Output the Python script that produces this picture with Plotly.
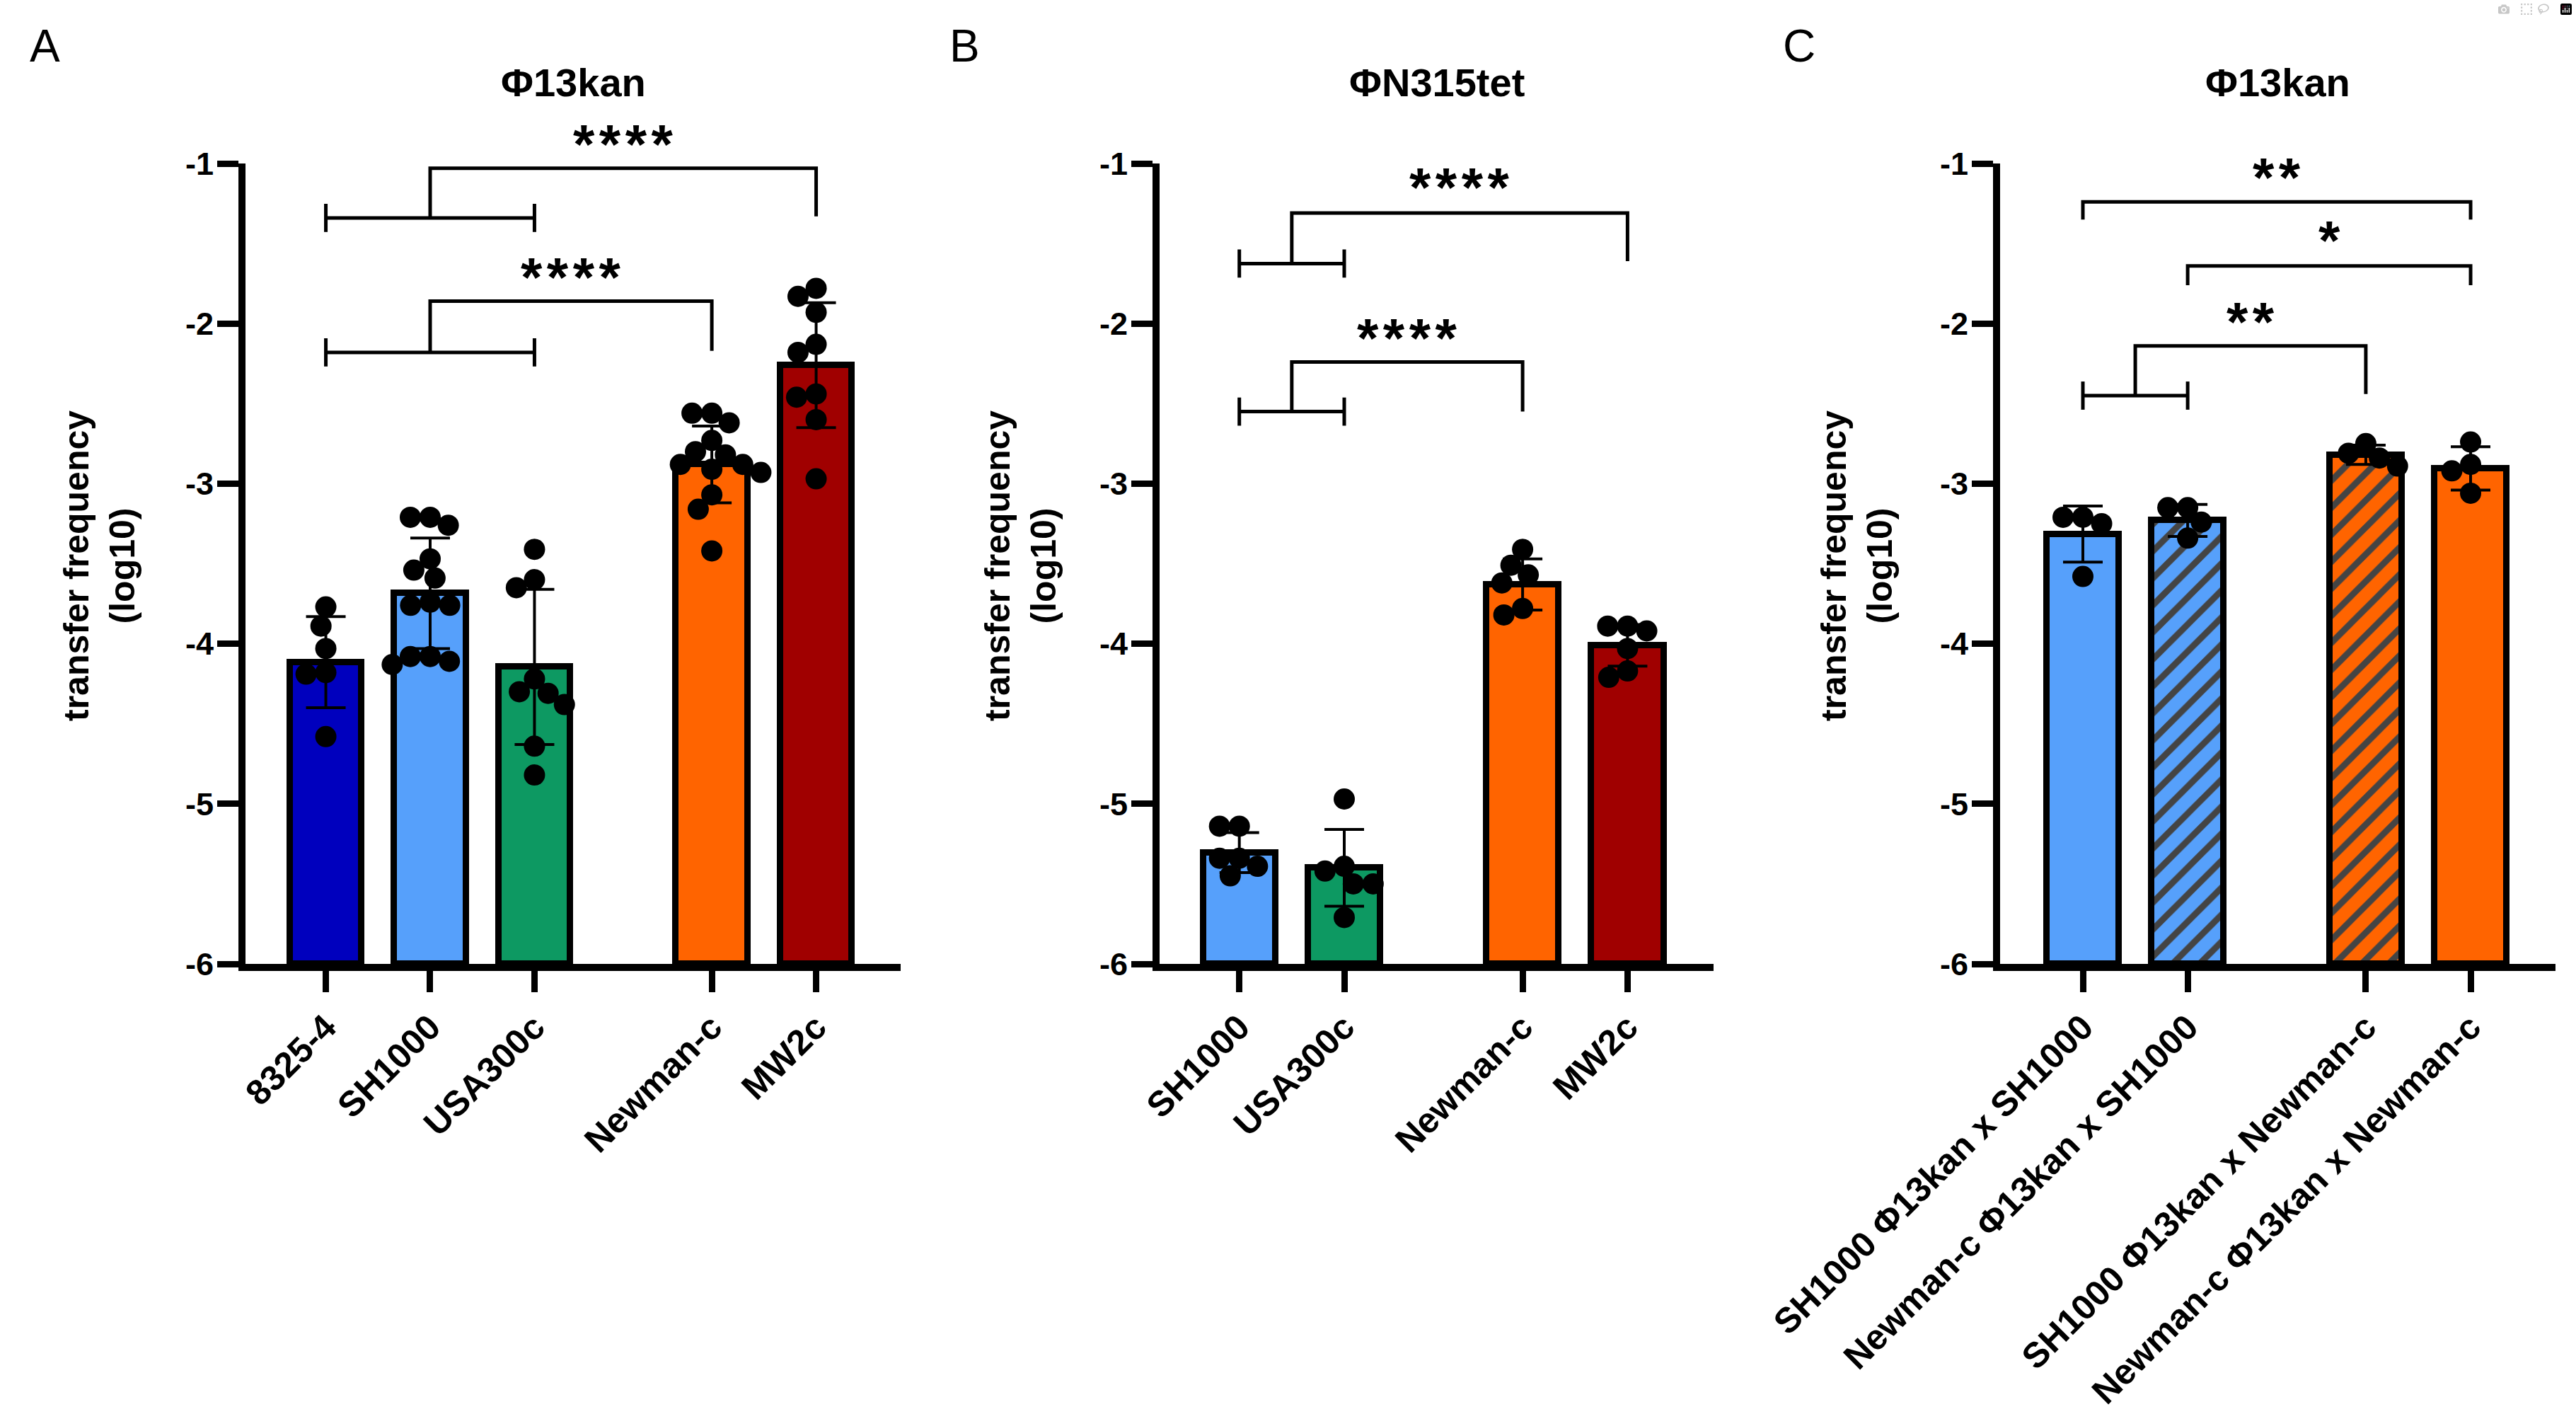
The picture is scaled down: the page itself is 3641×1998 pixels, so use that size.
import math
import plotly.graph_objects as go

# ---------------- data ----------------
A_categories = ["8325-4", "SH1000", "USA300c", "Newman-c", "MW2c"]
A_means = [-4.115, -3.685, -4.145, -2.88, -2.26]
A_sd = [0.285, 0.345, 0.485, 0.24, 0.39]
A_points = [
    [-3.89, -3.77, -4.03, -4.18, -4.19, -4.58],
    [-3.26, -3.21, -3.21, -3.47, -3.54, -3.59, -3.74, -3.76, -3.76, -4.13, -4.08, -4.11, -4.08],
    [-3.41, -3.65, -3.60, -4.31, -4.30, -4.22, -4.38, -4.64, -4.82],
    [-2.62, -2.56, -2.56, -2.73, -2.80, -2.82, -2.88, -2.88, -2.91, -2.93, -3.07, -3.16, -3.42],
    [-1.78, -1.83, -1.93, -2.18, -2.13, -2.46, -2.44, -2.60, -2.97],
]

B_categories = ["SH1000", "USA300c", "Newman-c", "MW2c"]
B_means = [-5.305, -5.40, -3.63, -4.01]
B_sd = [0.125, 0.24, 0.16, 0.13]
B_points = [
    [-5.14, -5.14, -5.34, -5.34, -5.39, -5.45],
    [-4.97, -5.39, -5.42, -5.50, -5.50, -5.71],
    [-3.51, -3.41, -3.57, -3.62, -3.82, -3.78],
    [-3.92, -3.89, -3.89, -4.03, -4.21, -4.17],
]

C_categories = ["SH1000 Φ13kan x SH1000", "Newman-c Φ13kan x SH1000",
                "SH1000 Φ13kan x Newman-c", "Newman-c Φ13kan x Newman-c"]
C_means = [-3.315, -3.23, -2.82, -2.905]
C_sd = [0.175, 0.10, 0.06, 0.135]
C_points = [
    [-3.21, -3.21, -3.25, -3.58],
    [-3.15, -3.15, -3.24, -3.34],
    [-2.75, -2.81, -2.84, -2.89],
    [-2.74, -2.88, -2.92, -3.06],
]

# significance comparisons: (left group idx, right group idx or None, target idx, cap y, top y, end y, stars, star y)
A_sig = [
    (0, 2, 4, -1.34, -1.03, -1.33, "****", -0.84),
    (0, 2, 3, -2.18, -1.86, -2.17, "****", -1.67),
]
B_sig = [
    (0, 1, 3, -1.625, -1.31, -1.61, "****", -1.11),
    (0, 1, 2, -2.55, -2.24, -2.55, "****", -2.05),
]
C_sig = [
    (0, None, 3, None, -1.24, -1.35, "**", -1.05),
    (1, None, 3, None, -1.64, -1.76, "*", -1.44),
    (0, 1, 2, -2.45, -2.14, -2.44, "**", -1.95),
]

# ---------------- style / layout ----------------
W, H = 3641, 1998
FONT = "Liberation Sans, Arial, sans-serif"
BLUE_D = "#0000BE"
BLUE_L = "#56A0FB"
GREEN = "#0D9962"
ORANGE = "#FF6400"
RED_D = "#A00000"

panels = [
    dict(name="A", title="Φ13kan", cats=A_categories, means=A_means, sd=A_sd, pts=A_points,
         sig=A_sig, pos=[0, 1, 2, 3.7, 4.7], colors=[BLUE_D, BLUE_L, GREEN, ORANGE, RED_D],
         hatch=["", "", "", "", ""], xr=[-0.77, 5.51], px0=347, px1=1273,
         letter_px=(63, 65), ytitle_px=140),
    dict(name="B", title="ΦN315tet", cats=B_categories, means=B_means, sd=B_sd, pts=B_points,
         sig=B_sig, pos=[0, 1, 2.7, 3.7], colors=[BLUE_L, GREEN, ORANGE, RED_D],
         hatch=["", "", "", ""], xr=[-0.76, 4.52], px0=1639, px1=2422,
         letter_px=(1363, 65), ytitle_px=1442),
    dict(name="C", title="Φ13kan", cats=C_categories, means=C_means, sd=C_sd, pts=C_points,
         sig=C_sig, pos=[0, 1, 2.7, 3.7], colors=[BLUE_L, BLUE_L, ORANGE, ORANGE],
         hatch=["", "/", "/", ""], xr=[-0.79, 4.51], px0=2827, px1=3612,
         letter_px=(2543, 65), ytitle_px=2624),
]

Y_TOP_PX, Y_BOT_PX = 231, 1362
YR = [-6, -1]
ydom = [1 - Y_BOT_PX / H, 1 - Y_TOP_PX / H]
px_per_y = (Y_BOT_PX - Y_TOP_PX) / (YR[1] - YR[0])
DOT = 30


def y_to_paper(v):
    return ydom[0] + (v - YR[0]) / (YR[1] - YR[0]) * (ydom[1] - ydom[0])


def swarm(vals, px_per_x, d):
    order = sorted(range(len(vals)), key=lambda i: -vals[i])
    placed = []
    out = [0.0] * len(vals)
    for i in order:
        y = vals[i] * px_per_y
        cands = [0.0]
        for xp, yp in placed:
            dy = abs(y - yp)
            if dy < d:
                dx = math.sqrt(d * d - dy * dy)
                cands += [xp + dx, xp - dx]
        cands.sort(key=lambda c: (round(abs(c), 6), c))
        chosen = 0.0
        for c in cands:
            if all((c - xp) ** 2 + (y - yp) ** 2 >= d * d - 1e-6 for xp, yp in placed):
                chosen = c
                break
        placed.append((chosen, y))
        out[i] = chosen / px_per_x
    return out


fig = go.Figure()
annotations = []
CAP = 0.088

for k, p in enumerate(panels):
    xa = "x" if k == 0 else f"x{k+1}"
    ya = "y" if k == 0 else f"y{k+1}"
    xdom = [p["px0"] / W, p["px1"] / W]
    px_per_x = (p["px1"] - p["px0"]) / (p["xr"][1] - p["xr"][0])

    # bars
    fig.add_trace(go.Bar(
        x=p["pos"], y=[m - YR[0] for m in p["means"]], base=[YR[0]] * len(p["means"]),
        width=0.69, xaxis=xa, yaxis=ya, showlegend=False, hoverinfo="skip",
        marker=dict(color=p["colors"], line=dict(color="black", width=9),
                    pattern=dict(shape=p["hatch"], fgcolor="black", fgopacity=1,
                                 size=27, solidity=0.33, fillmode="overlay")),
    ))
    # individual points
    for gi, vals in enumerate(p["pts"]):
        offs = swarm(vals, px_per_x, DOT - 2)
        fig.add_trace(go.Scatter(
            x=[p["pos"][gi] + o for o in offs], y=vals, mode="markers",
            xaxis=xa, yaxis=ya, showlegend=False, hoverinfo="skip", cliponaxis=False,
            marker=dict(color="black", size=DOT, line=dict(width=0)),
        ))
    # error bars (mean ± SD)
    fig.add_trace(go.Scatter(
        x=p["pos"], y=p["means"], mode="markers", xaxis=xa, yaxis=ya,
        showlegend=False, hoverinfo="skip", marker=dict(size=1, opacity=0),
        error_y=dict(type="data", array=p["sd"], symmetric=True, color="black",
                     thickness=4, width=28),
    ))
    # significance brackets
    for (g0, g1, tgt, ycap, ytop, yend, stars, ystar) in p["sig"]:
        x0 = p["pos"][g0]
        xt = p["pos"][tgt]
        if g1 is not None:
            x1 = p["pos"][g1]
            mid = (x0 + x1) / 2
            fig.add_trace(go.Scatter(
                x=[x0, x0, None, x0, x1, None, x1, x1],
                y=[ycap - CAP, ycap + CAP, None, ycap, ycap, None, ycap - CAP, ycap + CAP],
                mode="lines", line=dict(color="black", width=5), xaxis=xa, yaxis=ya,
                showlegend=False, hoverinfo="skip"))
            fig.add_trace(go.Scatter(
                x=[mid, mid, xt, xt], y=[ycap, ytop, ytop, yend],
                mode="lines", line=dict(color="black", width=5), xaxis=xa, yaxis=ya,
                showlegend=False, hoverinfo="skip"))
            sx = (mid + xt) / 2
        else:
            fig.add_trace(go.Scatter(
                x=[x0, x0, xt, xt], y=[yend, ytop, ytop, yend],
                mode="lines", line=dict(color="black", width=5), xaxis=xa, yaxis=ya,
                showlegend=False, hoverinfo="skip"))
            sx = (x0 + xt) / 2
        annotations.append(dict(
            x=sx, y=y_to_paper(ystar), xref=xa, yref="paper", text="\u200a".join(stars),
            showarrow=False, xanchor="center", yanchor="middle", yshift=-9,
            font=dict(family=FONT, size=78, color="black", weight="bold")))

    axis_common = dict(showline=True, linecolor="black", linewidth=10, ticks="outside",
                       ticklen=30, tickwidth=9, tickcolor="black", showgrid=False,
                       zeroline=False, fixedrange=True, automargin=False)
    fig.update_layout(**{
        ("xaxis" if k == 0 else f"xaxis{k+1}"): dict(
            domain=xdom, range=p["xr"], anchor=ya, tickvals=p["pos"], ticktext=p["cats"],
            tickangle=-45, tickfont=dict(family=FONT, size=50, color="black", weight="bold"),
            **axis_common),
        ("yaxis" if k == 0 else f"yaxis{k+1}"): dict(
            domain=ydom, range=YR, anchor=xa, tickvals=[-6, -5, -4, -3, -2, -1],
            ticktext=["-6", "-5", "-4", "-3", "-2", "-1"], ticklabelstandoff=-4,
            tickfont=dict(family=FONT, size=45, color="black", weight="bold"),
            **axis_common),
    })

    annotations.append(dict(
        x=(xdom[0] + xdom[1]) / 2, y=1 - 116 / H, xref="paper", yref="paper",
        text=p["title"], showarrow=False, xanchor="center", yanchor="middle",
        font=dict(family=FONT, size=56, color="black", weight="bold")))
    annotations.append(dict(
        x=p["letter_px"][0] / W, y=1 - p["letter_px"][1] / H, xref="paper", yref="paper",
        text=p["name"], showarrow=False, xanchor="center", yanchor="middle",
        font=dict(family=FONT, size=64, color="black")))
    annotations.append(dict(
        x=p["ytitle_px"] / W, y=1 - 800 / H, xref="paper", yref="paper",
        text="transfer frequency<br>(log10)", showarrow=False, textangle=-90,
        xanchor="center", yanchor="middle",
        font=dict(family=FONT, size=50, color="black", weight="bold")))

fig.update_layout(
    width=W, height=H, margin=dict(l=0, r=0, t=0, b=0, autoexpand=False),
    paper_bgcolor="white", plot_bgcolor="white",
    annotations=annotations, bargap=0, showlegend=False,
)

fig.write_html("out.html", post_script="document.body.style.margin='0';document.body.style.overflow='hidden';")
